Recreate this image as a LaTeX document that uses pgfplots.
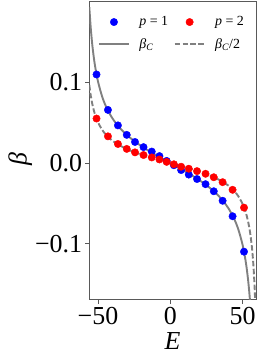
\documentclass[border=0pt]{standalone}
\usepackage{fontspec}
\setmainfont{Liberation Serif}
\usepackage{pgfplots}
\pgfplotsset{compat=1.18}
\definecolor{frame}{gray}{0.35}
\definecolor{curve}{gray}{0.5}
\pgfplotsset{
  dotleg/.style={legend image code/.code={\draw[##1] plot coordinates {(15bp,0bp)}; \path (0bp,0bp) (30bp,0bp);}},
  lineleg/.style={legend image code/.code={\draw[##1] (0bp,0bp) -- (30bp,0bp);}},
}
\begin{document}
\begin{tikzpicture}
\begin{axis}[
  scale only axis, width=166.7bp, height=298bp,
  xmin=-56, xmax=59.3, ymin=-0.17, ymax=0.2,
  xtick={-50,0,50}, xticklabels={−50,0,50},
  ytick={-0.1,0,0.1}, yticklabels={−0.1,0.0,0.1},
  tick label style={font=\fontsize{26}{28}\selectfont},
  xticklabel style={inner sep=0pt, yshift=-3bp},
  yticklabel style={inner sep=0pt, xshift=-3bp},
  tick align=outside, major tick length=4bp,
  tick style={frame, line width=0.8bp},
  xtick pos=bottom, ytick pos=left,
  axis line style={frame, line width=1bp},
  xlabel={\textit{E}}, ylabel={\textit{β}},
  label style={font=\fontsize{26}{28}\selectfont},
  xlabel style={at={(axis description cs:0.5,0)}, anchor=base, yshift=-49bp, inner sep=0pt},
  ylabel style={at={(axis description cs:0,0.5)}, anchor=center, yshift=69bp, xshift=-8bp, inner sep=0pt},
  legend columns=2,
  legend cell align=left,
  legend style={draw=none, fill=none, at={(axis description cs:0,1)}, anchor=north west,
    xshift=8.5bp, yshift=-14bp, inner sep=0pt,
    font=\fontsize{14}{16}\selectfont, row sep=10bp,
    nodes={inner sep=0.5pt},
    /tikz/every odd column/.append style={column sep=9bp},
    /tikz/every even column/.append style={column sep=5bp}},
]
\addplot[only marks, mark=*, mark size=3.7bp, color={rgb,255:red,0;green,0;blue,255}, mark options={draw=none}, dotleg]
coordinates {
(-51.0,0.110) (-43.1,0.066) (-36.2,0.0468) (-30.1,0.0350) (-24.4,0.0262) (-18.5,0.0198) (-12.8,0.0143) (-7.5,0.0087) (-2.5,0.0027)
(2.5,-0.0027) (7.5,-0.0087) (12.8,-0.0143) (18.5,-0.0198) (24.4,-0.0262) (30.1,-0.0350) (36.2,-0.0468) (43.1,-0.066) (51.0,-0.110)
};
\addlegendentry{\textit{p} = 1}
\addplot[only marks, mark=*, mark size=3.7bp, color={rgb,255:red,255;green,0;blue,0}, mark options={draw=none}, dotleg]
coordinates {
(-51.0,0.0553) (-43.1,0.0332) (-36.2,0.0237) (-30.1,0.0176) (-24.4,0.0133) (-18.5,0.0100) (-12.8,0.0070) (-7.5,0.0045) (-2.5,0.0015)
(2.5,-0.0015) (7.5,-0.0045) (12.8,-0.0070) (18.5,-0.0100) (24.4,-0.0133) (30.1,-0.0176) (36.2,-0.0237) (43.1,-0.0332) (51.0,-0.0553)
};
\addlegendentry{\textit{p} = 2}
\addplot[curve, line width=1.9bp, smooth, mark=none, lineleg]
coordinates {
(-56,0.19370) (-55,0.16769) (-54,0.14806) (-53,0.13267) (-52,0.12025) (-50,0.10137) (-47,0.081958) (-44,0.068479) (-40,0.05553) (-35,0.043806) (-30,0.034839) (-25,0.027479) (-20,0.021114) (-15,0.015384) (-10,0.010059) (-5,0.004973) (0,0)
(5,-0.004973) (10,-0.010059) (15,-0.015384) (20,-0.021114) (25,-0.027479) (30,-0.034839) (35,-0.043806) (40,-0.05553) (44,-0.068479) (47,-0.081958) (50,-0.10137) (52,-0.12025) (53,-0.13267) (54,-0.14806) (55,-0.16769) (56,-0.19370)
};
\addlegendentry{\textit{β}\textsubscript{\textit{C}}}
\addplot[curve, line width=1.9bp, smooth, mark=none, dash pattern=on 5.5bp off 2.4bp, lineleg]
coordinates {
(-56,0.09685) (-55,0.083845) (-54,0.07403) (-53,0.066335) (-52,0.060125) (-50,0.050685) (-47,0.040979) (-44,0.03424) (-40,0.027765) (-35,0.021903) (-30,0.01742) (-25,0.01374) (-20,0.010557) (-15,0.007692) (-10,0.00503) (-5,0.002487) (0,0)
(5,-0.002487) (10,-0.00503) (15,-0.007692) (20,-0.010557) (25,-0.01374) (30,-0.01742) (35,-0.021903) (40,-0.027765) (44,-0.03424) (47,-0.040979) (50,-0.050685) (52,-0.060125) (53,-0.066335) (54,-0.07403) (55,-0.083845) (56,-0.09685) (56.5,-0.10509) (57,-0.114955) (57.5,-0.12698) (58,-0.14198) (58.5,-0.16123) (59,-0.186855) (59.3,-0.206765)
};
\addlegendentry{\textit{β}\textsubscript{\textit{C}}/2}
\end{axis}
\pgfresetboundingbox
\path ([shift={(-89.3bp,-58bp)}]current axis.south west) rectangle ([shift={(4bp,2bp)}]current axis.north east);
\end{tikzpicture}
\end{document}
